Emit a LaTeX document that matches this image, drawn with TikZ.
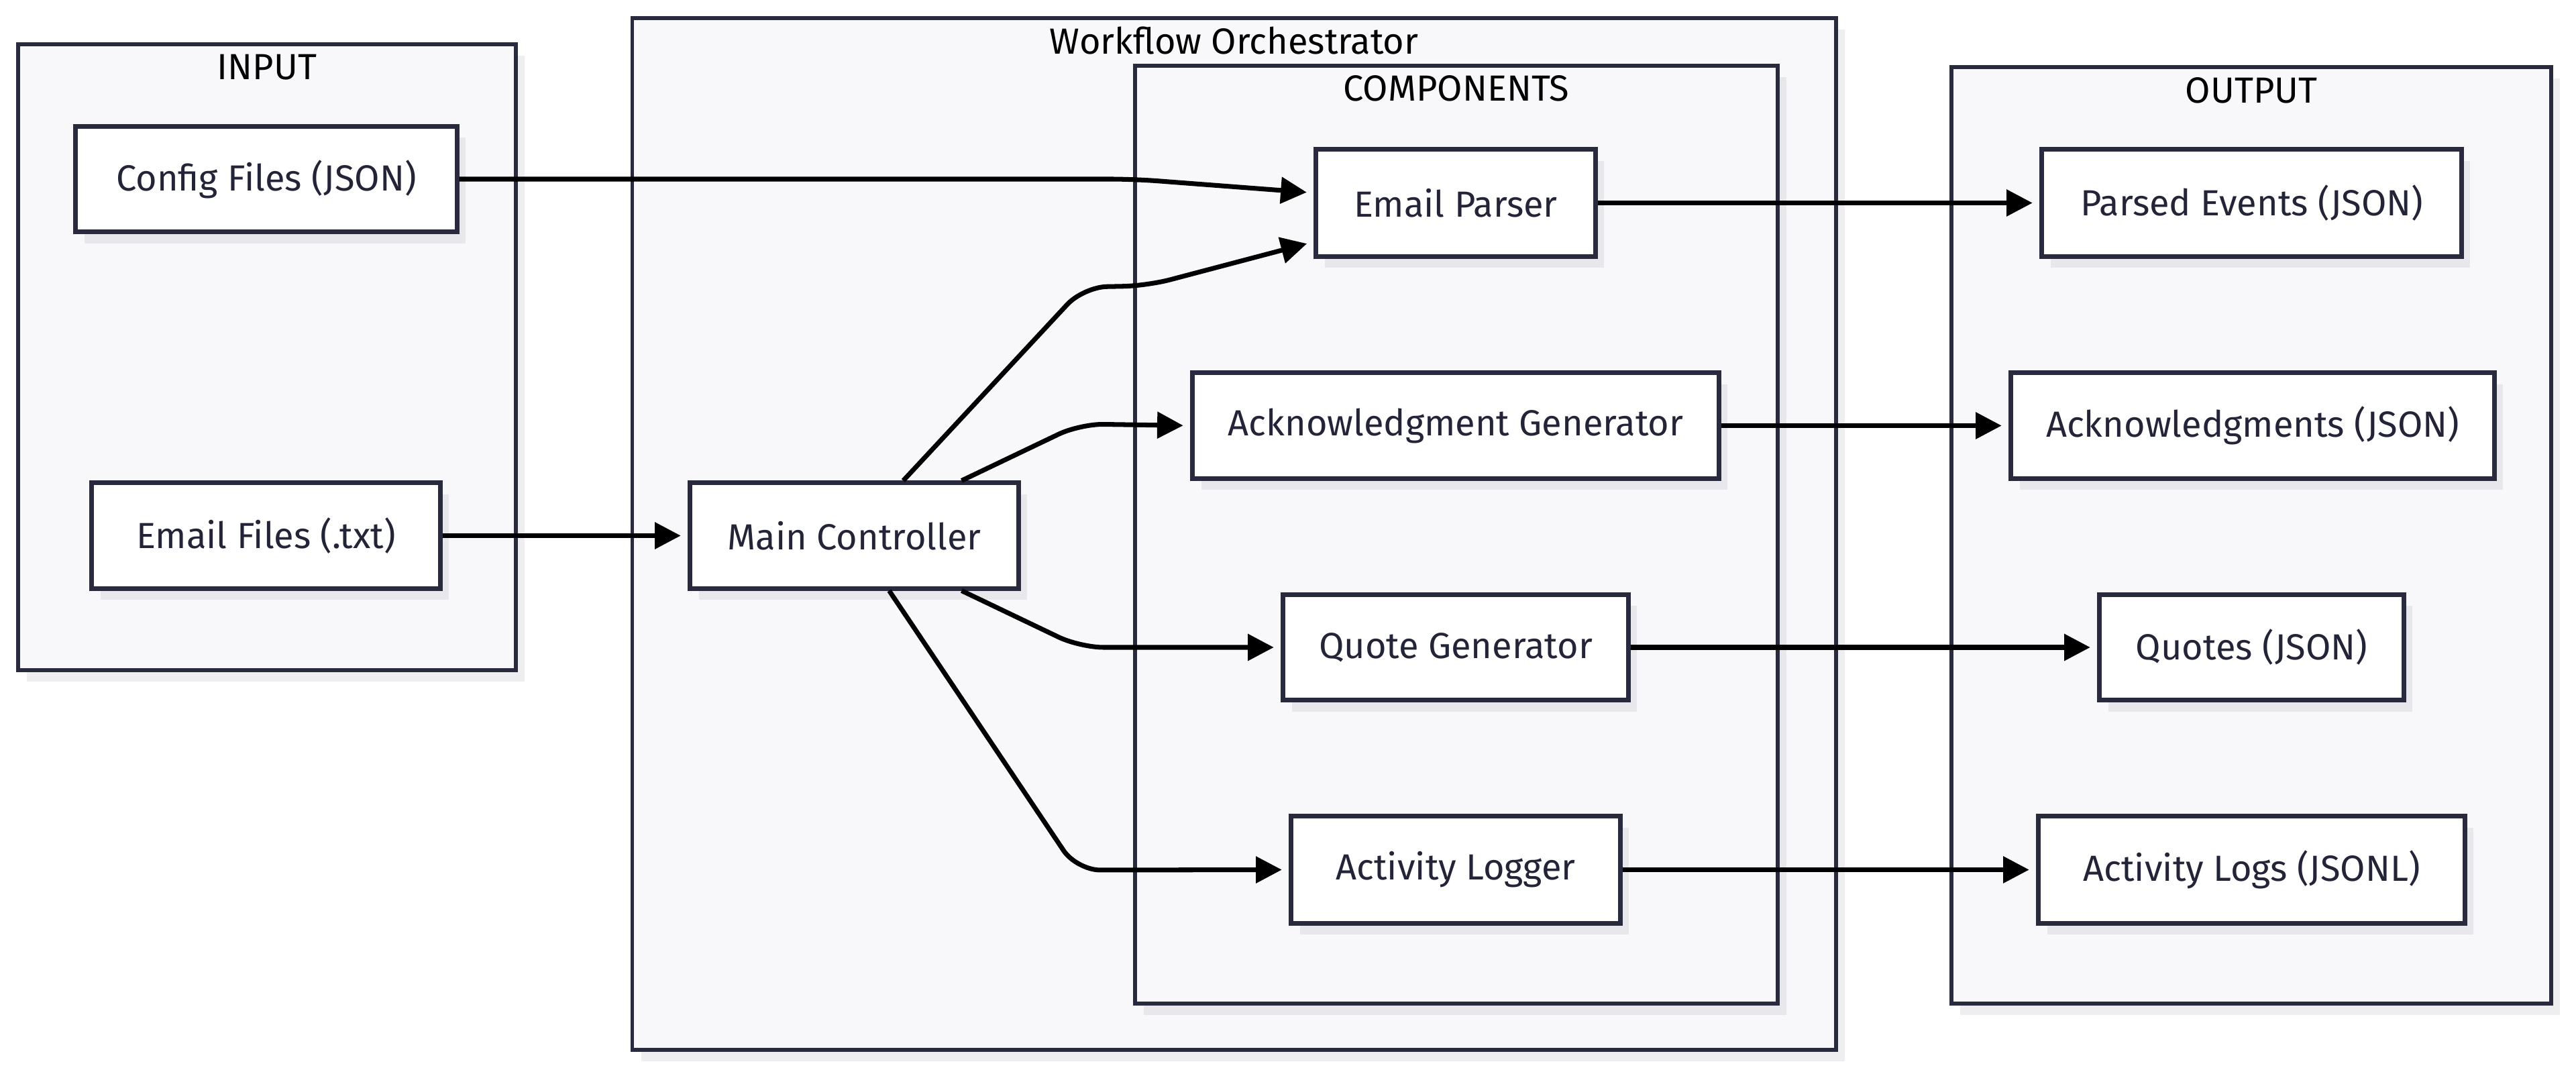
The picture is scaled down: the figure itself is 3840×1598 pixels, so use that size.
\documentclass[tikz,border=0pt]{standalone}
\usepackage{fontspec}
\setmainfont{Fira Sans}
\usetikzlibrary{arrows.meta,calc,shadows}
\definecolor{bord}{RGB}{42,42,62}
\definecolor{txt}{RGB}{36,36,56}
\definecolor{clfill}{RGB}{248,248,250}
\definecolor{shad}{RGB}{232,232,236}
\definecolor{shadw}{RGB}{238,238,240}
\tikzset{
  mshadow/.style={drop shadow={shadow xshift=0.13cm,shadow yshift=-0.17cm,opacity=1,fill=#1}},
  box/.style={draw=bord,line width=2pt,fill=white,inner sep=0pt,minimum height=1.57cm,
    text=txt,font=\fontsize{15.4}{18}\selectfont,mshadow=shad},
  cluster/.style={draw=bord,line width=1.7pt,fill=clfill,inner sep=0pt,mshadow=shadw},
  cltitle/.style={text=black,font=\fontsize{15.4}{18}\selectfont,inner sep=0pt},
  conn/.style={draw=black,line width=2pt,rounded corners=0.35cm,
    -{Triangle[length=11pt,width=11pt]},shorten >=3pt},
}
\begin{document}
\begin{tikzpicture}[x=0.01cm,y=-0.01cm]
\useasboundingbox[fill=white] (0,0) rectangle (3840,1598);
% clusters
\node[cluster,minimum width=7.42cm,minimum height=9.33cm] (input) at (398,532.5) {};
\node[cltitle] (inputT) at (398,100) {INPUT};
\node[cluster,minimum width=17.93cm,minimum height=15.38cm] (wfo) at (1839.5,796) {};
\node[cltitle] (wfoT) at (1839.5,61) {Workflow Orchestrator};
\node[cluster,minimum width=9.58cm,minimum height=13.98cm,mshadow=shad] (comp) at (2171,797) {};
\node[cltitle] (compT) at (2171,132) {COMPONENTS};
\node[cluster,minimum width=8.94cm,minimum height=13.96cm] (output) at (3356,798) {};
\node[cltitle] (outputT) at (3356,135) {OUTPUT};
% nodes
\node[box,minimum width=5.68cm] (cfg) at (397,267) {Config Files (JSON)};
\node[box,minimum width=5.19cm] (eml) at (396.5,798.5) {Email Files (.txt)};
\node[box,minimum width=4.89cm] (main) at (1273.5,798.5) {Main Controller};
\node[box,minimum width=4.16cm,minimum height=1.59cm] (parser) at (2170,302.5) {Email Parser};
\node[box,minimum width=7.84cm] (ack) at (2170,634.5) {Acknowledgment Generator};
\node[box,minimum width=5.14cm] (quote) at (2170,965) {Quote Generator};
\node[box,minimum width=4.90cm,minimum height=1.59cm] (logger) at (2170,1296.5) {Activity Logger};
\node[box,minimum width=6.25cm,minimum height=1.59cm] (pev) at (3356.5,302.5) {Parsed Events (JSON)};
\node[box,minimum width=7.20cm] (acks) at (3358,634.5) {Acknowledgments (JSON)};
\node[box,minimum width=4.53cm] (quotes) at (3356.5,965) {Quotes (JSON)};
\node[box,minimum width=6.35cm,minimum height=1.59cm] (logs) at (3356.5,1296.5) {Activity Logs (JSONL)};
% connectors
\draw[conn] (cfg.east) -- (1690,267) -- ($(parser.west)+(0,-15)$);
\draw[conn] ($(eml.east)$) -- (main.west);
\draw[conn] ($(main.north)+(73,0)$) -- (1615,428) -- (1710,426) -- ($(parser.west)+(0,58)$);
\draw[conn] ($(main.north)+(160,0)$) -- (1610,632) -- (ack.west);
\draw[conn] ($(main.south)+(160,0)$) -- (1610,965) -- (quote.west);
\draw[conn] ($(main.south)+(52,0)$) -- (1605,1297) -- (logger.west);
\draw[conn] (parser.east) -- (pev.west);
\draw[conn] (ack.east) -- (acks.west);
\draw[conn] (quote.east) -- (quotes.west);
\draw[conn] (logger.east) -- (logs.west);
\end{tikzpicture}
\end{document}
